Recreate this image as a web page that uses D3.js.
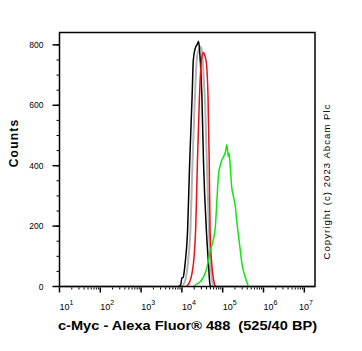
<!DOCTYPE html>
<html><head><meta charset="utf-8">
<script src="https://cdn.jsdelivr.net/npm/d3@7"></script>
<style>
body{margin:0;background:#fff;}
svg{display:block;font-family:"Liberation Sans",Arial,sans-serif;}
</style>
</head><body><div id="chart"></div>
<script>
// histogram data: log10 of fluorescence, counts
var grayLog    = [1.00,4.00,4.05,4.10,4.15,4.21,4.26,4.32,4.37,4.42,4.46,4.50,4.53,4.57,4.61,4.66,4.70,4.74,4.78,7.26];
var grayCounts = [0,   0,   10,  30,  80,  190, 410, 630, 760, 785, 795, 770, 700, 600, 420, 200, 80,  20,  0,   0];
var blackLog    = [3.92,3.97,4.00,4.03,4.08,4.14,4.19,4.25,4.28,4.33,4.37,4.41,4.44,4.47,4.49,4.53,4.60,4.65,4.69,4.72];
var blackCounts = [0,   5,   28,  30,  78,  187, 408, 628, 750, 790, 800, 812, 770, 700, 630, 410, 187, 78,  5,   0];
var redLog    = [4.11,4.18,4.25,4.30,4.34,4.38,4.43,4.49,4.53,4.56,4.60,4.64,4.67,4.69,4.73,4.78,4.82];
var redCounts = [0,   12,  45,  100, 200, 410, 628, 760, 775, 765, 740, 628, 410, 187, 78,  20,  0];
var greenLog    = [4.28,4.33,4.45,4.53,4.61,4.69,4.76,4.82,4.86,4.90,4.94,4.98,5.02,5.06,5.08,5.10,5.12,5.14,5.16,5.18,5.22,5.26,5.31,5.35,5.39,5.43,5.47,5.51,5.55,5.59,5.63];
var greenCounts = [0,   5,   16,  32,  60,  115, 150, 198, 290, 375, 400, 419, 430, 442, 455, 469, 450, 430, 440, 408, 330, 300, 264, 210, 165, 120, 77,  50,  32,  15,  0];

var yTicks = [0,200,400,600,800];
var decades = [1,2,3,4,5,6,7];

var W = 362, H = 351;
var L = 59.5, R = 315, T = 32.5, B = 286.5;

var svg = d3.select('#chart').append('svg').attr('width',W).attr('height',H);

var x = d3.scaleLog().domain([1e1,1e7]).range([L,304.3]);
var y = d3.scaleLinear().domain([0,841]).range([B,T]);

// y ticks
var yMinor = d3.range(0,801,50);
svg.selectAll('line.ymin').data(yMinor).join('line').attr('class','ymin')
    .attr('x1',L-3).attr('x2',L).attr('y1',function(d){ return y(d); }).attr('y2',function(d){ return y(d); })
    .attr('stroke','#000').attr('stroke-width',1);
svg.selectAll('line.ymaj').data(yTicks).join('line').attr('class','ymaj')
    .attr('x1',L-7).attr('x2',L).attr('y1',function(d){ return y(d); }).attr('y2',function(d){ return y(d); })
    .attr('stroke','#000').attr('stroke-width',1.5);
svg.selectAll('text.ylab').data(yTicks).join('text').attr('class','ylab')
    .attr('x',L-16).attr('y',function(d){ return y(d)+3; })
    .attr('text-anchor','end').attr('font-size','8.5px').attr('fill','#000')
    .text(function(d){ return d; });

// x ticks (log)
var xMinor = [];
decades.slice(0,-1).forEach(function(k){ for(var m=2;m<=9;m++) xMinor.push(m*Math.pow(10,k)); });
svg.selectAll('line.xmin').data(xMinor).join('line').attr('class','xmin')
    .attr('x1',function(d){ return x(d); }).attr('x2',function(d){ return x(d); })
    .attr('y1',B).attr('y2',B+3).attr('stroke','#000').attr('stroke-width',1);
svg.selectAll('line.xmaj').data(decades).join('line').attr('class','xmaj')
    .attr('x1',function(d){ return x(Math.pow(10,d)); }).attr('x2',function(d){ return x(Math.pow(10,d)); })
    .attr('y1',B).attr('y2',B+6).attr('stroke','#000').attr('stroke-width',1.5);
var xl = svg.selectAll('text.xlab').data(decades).join('text').attr('class','xlab')
    .attr('x',function(d){ return Math.min(x(Math.pow(10,d))+7, 306); }).attr('y',310)
    .attr('text-anchor','middle').attr('font-size','9px').attr('fill','#000');
xl.append('tspan').text('10');
xl.append('tspan').attr('font-size','7px').attr('dy',-5).text(function(d){ return d; });

// histograms
var line = d3.line()
    .x(function(d){ return x(Math.pow(10,d[0])); })
    .y(function(d){ return y(d[1]); })
    .curve(d3.curveMonotoneX);
var series = [
    {log:grayLog,  counts:grayCounts,  color:'#b4b4b4', w:2},
    {log:blackLog, counts:blackCounts, color:'#000000', w:1.5},
    {log:redLog,   counts:redCounts,   color:'#ee1111', w:1.5},
    {log:greenLog, counts:greenCounts, color:'#11e611', w:1.5}
];
var g = svg.append('g');
series.forEach(function(s){
    var pts = s.log.map(function(v,i){ return [v, s.counts[i]]; });
    g.append('path').attr('d',line(pts)).attr('fill','none')
        .attr('stroke',s.color).attr('stroke-width',s.w).attr('stroke-linejoin','round');
});

// frame
svg.append('rect').attr('x',L).attr('y',T).attr('width',R-L).attr('height',B-T)
    .attr('fill','none').attr('stroke','#000').attr('stroke-width',1.5);

// titles
svg.append('text').attr('transform','translate(18,143) rotate(-90)')
    .attr('text-anchor','middle').attr('font-size','12px').attr('font-weight','bold')
    .attr('letter-spacing','1.2px').text('Counts');
svg.append('text').attr('x',58).attr('y',330).attr('font-size','12px').attr('font-weight','bold')
    .attr('textLength',259).attr('lengthAdjust','spacingAndGlyphs')
    .style('white-space','pre').text('c-Myc - Alexa Fluor\u00ae 488  (525/40 BP)');
svg.append('text').attr('transform','translate(330,182) rotate(-90)')
    .attr('text-anchor','middle').attr('font-size','9.5px')
    .attr('textLength',155).attr('lengthAdjust','spacing')
    .text('Copyright (c) 2023 Abcam Plc');
</script></body></html>
